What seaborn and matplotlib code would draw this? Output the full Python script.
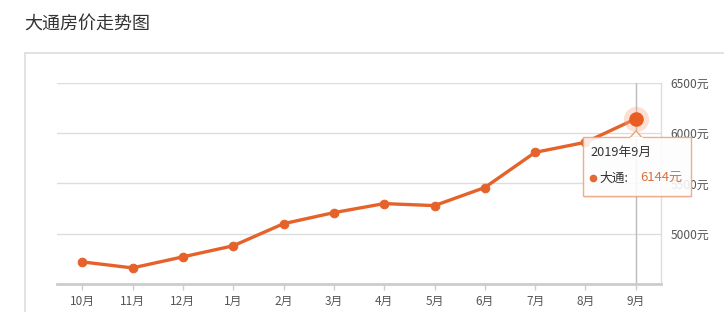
import matplotlib
matplotlib.use("Agg")
import matplotlib.pyplot as plt
import seaborn as sns
import pandas as pd
from matplotlib.patches import Rectangle, Polygon
from matplotlib.lines import Line2D

months = ["10月", "11月", "12月", "1月", "2月", "3月", "4月", "5月", "6月", "7月", "8月", "9月"]
prices = [4720, 4660, 4770, 4880, 5100, 5210, 5300, 5280, 5460, 5810, 5910, 6144]
ytick_values = [5000, 5500, 6000, 6500]
ytick_labels = ["5000元", "5500元", "6000元", "6500元"]
title = "大通房价走势图"
series_name = "大通"
tooltip_title = "2019年9月"

sns.set_theme(style="white")
plt.rcParams['font.family'] = ['Noto Sans CJK SC', 'DejaVu Sans']

W, H = 724, 312
fig = plt.figure(figsize=(W / 100, H / 100), dpi=100)
fig.patch.set_facecolor("white")

def fx(px):
    return px / W

def fy(py):
    return 1 - py / H

ax = fig.add_axes([fx(57), fy(284), fx(661) - fx(57), fy(83) - fy(284)])
ax.set_facecolor("white")

df = pd.DataFrame({"month": months, "price": prices})
orange = "#e5622a"
sns.lineplot(data=df, x="month", y="price", sort=False, ax=ax, color=orange,
             linewidth=2.4, marker="o", markersize=6.2, markeredgecolor=orange,
             markerfacecolor=orange, zorder=3)

# highlight last point
last = len(months) - 1
ax.scatter([last], [prices[-1]], s=330, color="#f4a782", alpha=0.35, zorder=4, linewidths=0)
ax.scatter([last], [prices[-1]], s=110, color="#ea5d22", zorder=5, linewidths=0)

ax.set_xlim(-0.5, len(months) - 0.5)
ax.set_ylim(4500, 6500)
ax.set_xlabel("")
ax.set_ylabel("")

# grid
for v in ytick_values:
    ax.axhline(v, color="#dddddd", linewidth=1, zorder=1)
ax.axvline(last, color="#bbbbbb", linewidth=1, zorder=2)

for s in ["left", "top"]:
    ax.spines[s].set_visible(False)
ax.spines["right"].set_color("#dddddd")
ax.spines["right"].set_linewidth(1)
ax.spines["bottom"].set_color("#cccccc")
ax.spines["bottom"].set_linewidth(2)

ax.yaxis.tick_right()
ax.set_yticks(ytick_values)
ax.set_yticklabels(ytick_labels)
ax.tick_params(axis="y", length=0, pad=7, labelsize=8.6, labelcolor="#555555")
ax.tick_params(axis="x", length=4, width=1, color="#cccccc", pad=4, labelsize=8.5,
               labelcolor="#555555", bottom=True)

# title
fig.text(fx(24), fy(25), title, fontsize=13, color="#333333", va="center", ha="left")

# panel border
fig.add_artist(Line2D([fx(25), fx(25)], [fy(53), 0], color="#dddddd", linewidth=1.2))
fig.add_artist(Line2D([fx(25), 1], [fy(53), fy(53)], color="#dddddd", linewidth=1.2))

# tooltip shadow
shadow = Rectangle((fx(584), fy(198)), fx(691) - fx(583), fy(137) - fy(196),
                   transform=fig.transFigure, facecolor="#000000", alpha=0.06,
                   edgecolor="none", zorder=9)
fig.add_artist(shadow)
box = Rectangle((fx(583), fy(196)), fx(691) - fx(583), fy(137) - fy(196),
                transform=fig.transFigure, facecolor="white", alpha=0.88,
                edgecolor="#eaa47e", linewidth=1, zorder=10)
fig.add_artist(box)
tri = Polygon([[fx(630), fy(137.5)], [fx(636), fy(131)], [fx(642), fy(137.5)]],
              closed=True, transform=fig.transFigure, facecolor="white",
              edgecolor="#eaa47e", linewidth=1, zorder=11)
fig.add_artist(tri)
fig.add_artist(Line2D([fx(630.5), fx(641.5)], [fy(137.5), fy(137.5)], color="white",
                      linewidth=1.5, zorder=12))
fig.text(fx(590), fy(152), tooltip_title, fontsize=9.2, color="#333333",
         va="center", ha="left", zorder=13)
fig.add_artist(Line2D([fx(593)], [fy(178)], marker="o", markersize=4.5, color="#e06a35",
                      linestyle="none", zorder=13))
fig.text(fx(599), fy(178), series_name + ":", fontsize=9.2, color="#333333",
         va="center", ha="left", zorder=13)
fig.text(fx(640), fy(178), f"{prices[-1]}元", fontsize=9.4, color="#d9703c",
         va="center", ha="left", zorder=13)

fig.savefig("out.png", dpi=100, facecolor="white")
